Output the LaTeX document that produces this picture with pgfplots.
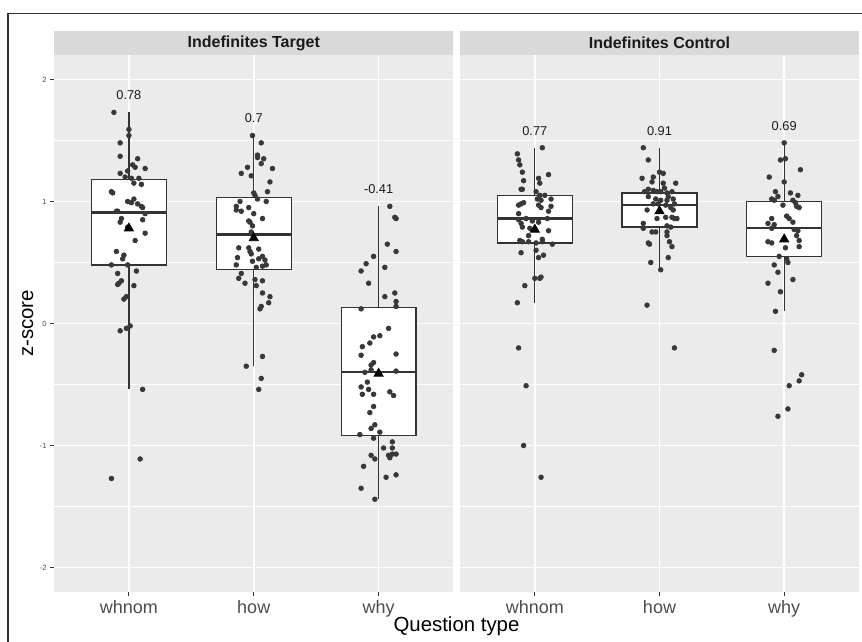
\documentclass[border=0pt]{standalone}
\usepackage{pgfplots}
\pgfplotsset{compat=1.18}
\usepgfplotslibrary{statistics}
\usepackage{fontspec}
\setmainfont{Liberation Sans}

\definecolor{panelbg}{HTML}{EBEBEB}
\definecolor{stripbg}{HTML}{D9D9D9}
\definecolor{gray20}{HTML}{333333}
\definecolor{gray30}{HTML}{4D4D4D}
\definecolor{gray10}{HTML}{1A1A1A}
\definecolor{dotcol}{HTML}{383838}

\pgfplotsset{
  panel/.style={
    scale only axis, height=268.5pt,
    xmin=0.4, xmax=3.6, ymin=-2.2, ymax=2.2,
    axis background/.style={fill=panelbg},
    axis line style={draw=none},
    xtick={1,2,3}, xticklabels={whnom,how,why},
    ytick={-2,-1,0,1,2}, yticklabels={-2,-1,0,1,2},
    minor ytick={-1.5,-0.5,0.5,1.5},
    xmajorgrids, ymajorgrids, yminorgrids,
    major grid style={white, line width=0.8pt},
    minor grid style={white, line width=0.4pt},
    tick align=outside, major tick length=2pt, minor tick length=0pt,
    xtick pos=left, ytick pos=left,
    tick style={gray20, line width=0.5pt},
    x tick label style={font=\fontsize{9}{10}\selectfont, text=gray30, inner sep=0pt, yshift=-2pt},
    y tick label style={font=\fontsize{3.8}{4}\selectfont, text=gray30, inner sep=0pt, xshift=-1.5pt},
    clip=false,
    boxplot/draw direction=y,
    boxplot/box extend=0.6, boxplot/whisker extend=0,
    boxplot/every median/.style={line width=1.1pt},
  },
  bx/.style={draw=gray20, fill=white, line width=0.6pt},
  pts/.style={only marks, mark=*, mark size=1.15pt, color=dotcol, mark options={draw=none, fill=dotcol}},
  mn/.style={only marks, mark=triangle*, mark size=2.6pt, mark options={draw=black, fill=black}},
  lbl/.style={only marks, mark=none, point meta=explicit symbolic, nodes near coords,
    nodes near coords style={anchor=center, inner sep=0pt, font=\fontsize{6.4}{7}\selectfont, text=gray10}},
}

\begin{document}
\begin{tikzpicture}[x=0.5pt, y=0.5pt]
\useasboundingbox (0,0) rectangle (862,642);
\draw[gray20, line width=0.85pt] (8,0) -- (8,628.5) -- (862,628.5);

% left panel
\begin{axis}[panel, at={(27pt,25pt)}, anchor=south west, width=199.75pt]
\addplot[bx, boxplot prepared={draw position=1, lower whisker=-0.54, lower quartile=0.48, median=0.91, upper quartile=1.18, upper whisker=1.73}] coordinates {};
\addplot[bx, boxplot prepared={draw position=2, lower whisker=-0.35, lower quartile=0.44, median=0.73, upper quartile=1.03, upper whisker=1.54}] coordinates {};
\addplot[bx, boxplot prepared={draw position=3, lower whisker=-1.44, lower quartile=-0.92, median=-0.40, upper quartile=0.13, upper whisker=0.96}] coordinates {};
\addplot[pts] coordinates {
(0.88,1.73)(1.00,1.59)(1.00,1.54)(0.93,1.48)(0.93,1.37)(1.07,1.35)(1.03,1.30)(1.05,1.28)(0.99,1.25)(1.13,1.27)
(0.93,1.23)(0.97,1.20)(1.02,1.19)(1.08,1.19)(1.04,1.15)(1.10,1.14)(0.86,1.08)(0.87,1.07)(1.04,1.02)(0.99,1.00)
(1.02,0.99)(1.07,0.98)(1.10,0.96)(1.11,0.95)(0.91,0.92)(0.90,0.92)(1.13,0.90)(1.11,0.85)(0.94,0.86)(0.93,0.83)
(0.99,0.79)(1.13,0.74)(1.05,0.68)(0.90,0.59)(0.96,0.56)(0.95,0.53)(0.86,0.48)(0.99,0.48)(1.06,0.43)(0.91,0.41)
(0.92,0.33)(0.94,0.35)(0.91,0.32)(1.04,0.31)(0.96,0.20)(0.98,0.22)(1.01,-0.02)(0.98,-0.04)(0.93,-0.06)(1.11,-0.54)
(1.09,-1.11)(0.86,-1.27)};
\addplot[pts] coordinates {
(1.99,1.54)(2.06,1.48)(2.03,1.38)(2.03,1.36)(2.08,1.35)(2.06,1.31)(1.95,1.28)(2.15,1.27)(1.90,1.23)(1.98,1.21)
(2.13,1.16)(2.11,1.08)(2.00,1.07)(2.01,1.05)(2.03,1.02)(1.89,1.00)(2.10,1.00)(1.86,0.96)(1.86,0.93)(1.96,0.95)
(1.90,0.92)(2.00,0.90)(2.07,0.86)(1.96,0.84)(1.97,0.83)(1.99,0.80)(1.98,0.75)(1.99,0.73)(1.88,0.62)(1.96,0.62)
(2.04,0.61)(1.97,0.59)(1.87,0.54)(1.98,0.57)(2.04,0.53)(2.07,0.55)(2.09,0.52)(1.99,0.51)(1.86,0.48)(2.07,0.47)
(2.10,0.48)(2.02,0.46)(1.90,0.41)(1.88,0.37)(1.93,0.33)(2.01,0.36)(2.07,0.35)(2.02,0.31)(2.07,0.25)(2.13,0.22)
(2.12,0.17)(2.06,0.14)(2.05,0.12)(2.07,-0.27)(1.94,-0.35)(2.06,-0.45)(2.04,-0.54)};
\addplot[pts] coordinates {
(3.09,0.96)(3.13,0.87)(3.14,0.86)(3.07,0.65)(3.14,0.59)(2.96,0.55)(2.90,0.49)(3.05,0.46)(2.86,0.43)(2.92,0.33)
(3.13,0.25)(3.05,0.22)(3.14,0.18)(3.14,0.14)(2.86,0.12)(3.08,-0.04)(2.96,-0.11)(3.01,-0.10)(2.93,-0.16)(2.87,-0.19)
(2.86,-0.26)(3.14,-0.25)(2.96,-0.32)(2.94,-0.34)(2.94,-0.38)(2.89,-0.40)(3.14,-0.39)(2.91,-0.48)(2.86,-0.52)(2.92,-0.54)
(2.87,-0.58)(2.96,-0.58)(3.09,-0.56)(3.12,-0.59)(2.96,-0.68)(2.93,-0.73)(2.97,-0.83)(2.94,-0.86)(3.01,-0.89)(2.85,-0.91)
(2.96,-0.94)(3.11,-0.97)(3.04,-1.02)(3.11,-1.02)(2.94,-1.08)(3.08,-1.08)(3.09,-1.10)(3.11,-1.07)(3.14,-1.07)(2.97,-1.11)
(2.88,-1.17)(3.14,-1.24)(3.06,-1.26)(2.86,-1.35)(2.97,-1.44)};
\addplot[mn] coordinates {(1,0.78)(2,0.70)(3,-0.41)};
\addplot[lbl] coordinates {(1,1.87)[0.78] (2,1.68)[0.7] (3,1.10)[-0.41]};
\fill[stripbg] (rel axis cs:0,1) rectangle ([yshift=12pt]rel axis cs:1,1);
\node[font=\bfseries\fontsize{8}{9}\selectfont, text=gray10] at ([yshift=6pt]rel axis cs:0.5,1) {Indefinites Target};
\end{axis}

% right panel
\begin{axis}[panel, at={(230pt,25pt)}, anchor=south west, width=199.5pt,
  yticklabels={}, ytick style={draw=none}]
\addplot[bx, boxplot prepared={draw position=1, lower whisker=0.17, lower quartile=0.66, median=0.86, upper quartile=1.05, upper whisker=1.44}] coordinates {};
\addplot[bx, boxplot prepared={draw position=2, lower whisker=0.44, lower quartile=0.79, median=0.97, upper quartile=1.07, upper whisker=1.44}] coordinates {};
\addplot[bx, boxplot prepared={draw position=3, lower whisker=0.10, lower quartile=0.55, median=0.78, upper quartile=1.00, upper whisker=1.48}] coordinates {};
\addplot[pts] coordinates {
(1.06,1.44)(0.86,1.39)(0.87,1.34)(0.88,1.30)(0.90,1.24)(1.11,1.22)(0.91,1.17)(1.03,1.19)(1.04,1.15)(0.89,1.10)
(0.90,1.10)(1.01,1.08)(1.04,1.05)(1.08,1.05)(1.13,1.02)(1.02,1.02)(1.05,1.01)(0.91,0.99)(0.89,0.98)(0.87,0.97)
(1.03,0.97)(1.05,0.95)(1.13,0.96)(0.87,0.90)(1.11,0.92)(0.87,0.85)(0.93,0.86)(0.98,0.84)(1.10,0.86)(0.89,0.82)
(0.90,0.79)(1.03,0.83)(0.96,0.78)(1.11,0.76)(0.95,0.72)(0.88,0.68)(0.90,0.67)(0.95,0.67)(1.01,0.66)(1.06,0.69)
(1.06,0.67)(1.14,0.65)(0.89,0.58)(1.01,0.60)(1.07,0.56)(1.03,0.54)(1.00,0.37)(1.04,0.37)(1.05,0.38)(0.92,0.31)
(0.86,0.17)(0.87,-0.20)(0.93,-0.51)(0.91,-1.00)(1.05,-1.26)};
\addplot[pts] coordinates {
(1.87,1.44)(1.91,1.34)(2.00,1.24)(2.03,1.23)(1.95,1.20)(1.86,1.19)(1.94,1.16)(2.13,1.15)(2.03,1.15)(2.04,1.11)
(1.91,1.10)(1.88,1.08)(1.95,1.09)(1.98,1.08)(2.01,1.08)(2.06,1.07)(2.10,1.08)(2.07,1.04)(1.91,1.04)(1.97,1.02)
(2.01,1.01)(2.11,1.02)(2.06,1.01)(1.95,0.98)(1.99,0.98)(2.05,0.97)(2.12,0.98)(2.09,0.95)(1.90,0.93)(2.11,0.93)
(2.05,0.87)(2.10,0.87)(2.12,0.86)(2.14,0.86)(1.98,0.86)(1.87,0.82)(1.87,0.78)(1.94,0.75)(1.97,0.75)(2.06,0.80)
(2.09,0.79)(2.06,0.75)(2.06,0.72)(2.08,0.67)(1.91,0.66)(1.92,0.65)(2.10,0.63)(2.07,0.54)(1.93,0.50)(2.01,0.44)
(1.90,0.15)(2.12,-0.20)};
\addplot[pts] coordinates {
(3.00,1.48)(2.97,1.34)(3.01,1.35)(3.13,1.26)(2.88,1.20)(3.00,1.16)(2.93,1.08)(3.05,1.07)(3.11,1.05)(2.90,1.02)
(2.95,1.04)(2.92,1.01)(3.07,1.01)(3.09,0.99)(2.99,0.97)(3.10,0.96)(3.12,0.95)(3.02,0.88)(3.04,0.86)(3.07,0.83)
(2.90,0.86)(2.87,0.82)(2.92,0.81)(2.90,0.78)(3.08,0.77)(3.11,0.76)(3.10,0.72)(3.12,0.68)(2.87,0.67)(2.90,0.66)
(3.01,0.62)(3.12,0.63)(2.96,0.55)(3.02,0.53)(3.03,0.50)(2.92,0.48)(2.95,0.42)(3.07,0.36)(2.87,0.33)(2.97,0.26)
(2.93,0.10)(2.92,-0.22)(3.14,-0.42)(3.12,-0.47)(3.04,-0.51)(3.03,-0.70)(2.95,-0.76)};
\addplot[mn] coordinates {(1,0.77)(2,0.92)(3,0.69)};
\addplot[lbl] coordinates {(1,1.58)[0.77] (2,1.58)[0.91] (3,1.62)[0.69]};
\fill[stripbg] (rel axis cs:0,1) rectangle ([yshift=12pt]rel axis cs:1,1);
\node[font=\bfseries\fontsize{8}{9}\selectfont, text=gray10] at ([yshift=6pt]rel axis cs:0.5,1) {Indefinites Control};
\end{axis}

\node[rotate=90, anchor=base, font=\fontsize{10.2}{12}\selectfont] at (33,318.5) {z-score};
\node[anchor=base, font=\fontsize{10.2}{12}\selectfont] at (456.5,10.5) {Question type};
\end{tikzpicture}
\end{document}
